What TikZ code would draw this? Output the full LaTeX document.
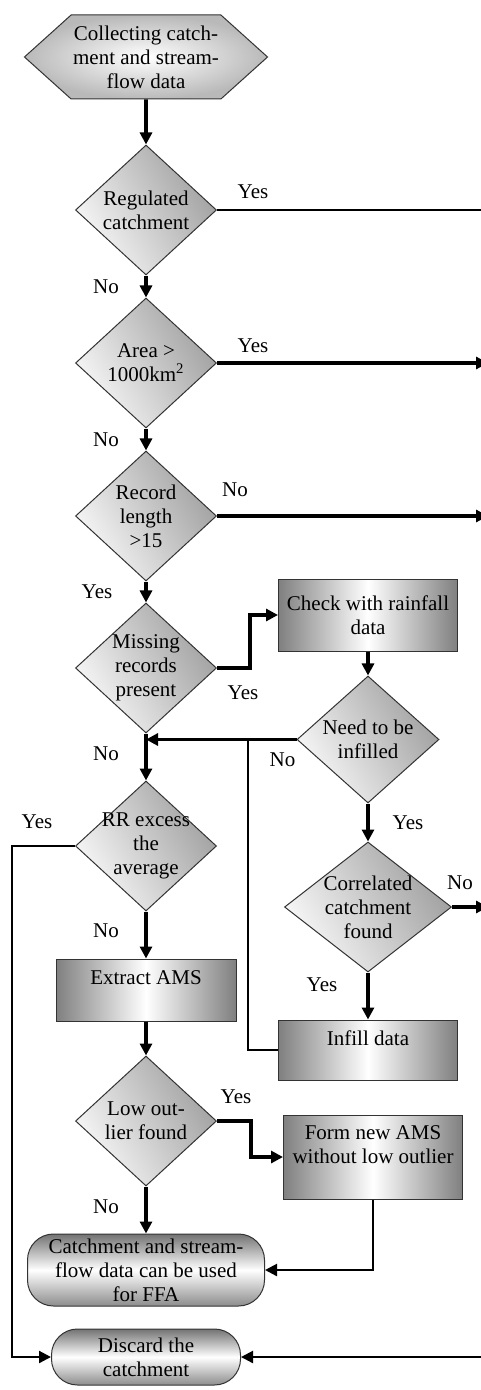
\documentclass[tikz,border=0pt]{standalone}
\usepackage{fontspec}
\setmainfont{Liberation Serif}
\usetikzlibrary{positioning, arrows.meta, shapes.geometric, shapes.symbols, calc}

\begin{document}
\begin{tikzpicture}[
    x=0.5pt, y=-0.5pt,
    font=\fontsize{10.5}{12}\selectfont,
    node distance=12pt,
    base/.style={draw=black!80, line width=0.5pt, align=center},
    startbox/.style={base, signal, signal to=east and west, signal pointer angle=84,
      minimum width=119pt, minimum height=42pt, inner sep=1pt,
      inner color=white, outer color=gray!55},
    decision/.style={base, diamond, inner sep=-4pt, minimum width=70.5pt, minimum height=65pt,
      top color=gray!75, bottom color=gray!5, shading angle=-60},
    process/.style={base, rectangle, minimum width=89.5pt, inner sep=1pt,
      left color=black!50, right color=black!50, middle color=white},
    terminal/.style={base, rectangle, rounded corners=13pt, inner sep=1pt,
      top color=black!55, bottom color=black!45, middle color=white},
    arrow/.style={-{Triangle[length=6pt,width=6pt]}, line width=1.8pt},
    thinarrow/.style={-{Triangle[length=6pt,width=6pt]}, line width=1.1pt},
    thinline/.style={line width=1.1pt},
    lbl/.style={inner sep=0pt}
  ]
  \useasboundingbox (0,0) rectangle (481,1390);
  \coordinate (rightedge) at (488,0);

  % main column
  \node[startbox] (collect) at (146,57) {Collecting catch-\\ment and stream-\\flow data};
  \node[decision, below=22.5pt of collect] (regulated) {Regulated\\catchment};
  \node[decision, below=11pt of regulated] (area) {Area >\\1000km\textsuperscript{2}};
  \node[decision, below=11pt of area] (record) {Record\\length\\>15};
  \node[decision, below=10.5pt of record] (missing) {Missing\\records\\present};
  \node[decision, below=23.5pt of missing] (excess) {RR excess\\the\\average};
  \node[process, minimum width=90pt, minimum height=31pt, below=23.5pt of excess] (extract) {Extract AMS\\\mbox{}};
  \node[decision, below=17pt of extract] (outlier) {Low out-\\lier found};
  \node[terminal, minimum width=118.5pt, minimum height=36pt, below=23.5pt of outlier] (usable) {Catchment and stream-\\flow data can be used\\for FFA};
  \node[terminal, minimum width=94.5pt, minimum height=28pt, below=11pt of usable] (discard) {Discard the\\catchment};

  % infilling branch
  \node[process, minimum height=36pt, right=30.5pt of missing, yshift=26.5pt] (rainfall) {Check with rainfall\\data};
  \node[decision, minimum width=71pt, minimum height=63.5pt, below=12pt of rainfall] (infilled) {Need to be\\infilled};
  \node[decision, minimum width=83.5pt, below=19pt of infilled] (correlated) {Correlated\\catchment\\found};
  \node[process, minimum height=30pt, below=23.5pt of correlated] (infill) {Infill data\\\mbox{}};
  \node[process, minimum height=42pt, right=33pt of outlier, yshift=-18pt] (newams) {Form new AMS\\without low outlier\\\mbox{}};
  \coordinate (merge) at ($(rainfall.west |- infilled.west) + (-15pt,0)$);

  % connectors
  \draw[arrow] (collect) -- (regulated);
  \draw[thinline] (regulated.east) -- node[lbl, pos=0, xshift=18pt, yshift=9pt] {Yes} (regulated.east -| rightedge);
  \draw[arrow] (regulated) -- node[lbl, xshift=-20pt] {No} (area);
  \draw[arrow] (area.east) -- node[lbl, pos=0, xshift=18pt, yshift=8.5pt] {Yes} (area.east -| rightedge);
  \draw[arrow] (area) -- node[lbl, xshift=-20pt] {No} (record);
  \draw[arrow] (record.east) -- node[lbl, pos=0, xshift=9pt, yshift=13pt] {No} (record.east -| rightedge);
  \draw[arrow] (record) -- node[lbl, xshift=-24.5pt] {Yes} (missing);
  \draw[arrow] (missing.east) -- ++(16.5pt,0) node[lbl, pos=0, xshift=13pt, yshift=-12.5pt] {Yes} |- (rainfall.west);
  \draw[arrow] (rainfall) -- (infilled);
  \draw[arrow] (infilled.west) -- node[lbl, pos=0, xshift=-7pt, yshift=-10pt] {No} (infilled.west -| missing.south);
  \draw[arrow] (infilled) -- node[lbl, xshift=20pt] {Yes} (correlated);
  \draw[arrow] (correlated.east) -- node[lbl, pos=0, xshift=4pt, yshift=12pt] {No} (correlated.east -| rightedge);
  \draw[arrow] (correlated) -- node[lbl, pos=0.27, xshift=-23pt] {Yes} (infill);
  \draw[thinline] (infill.west) -| (merge);
  \draw[arrow] (missing) -- node[lbl, pos=0.43, xshift=-20pt] {No} (excess);
  \draw[thinarrow] (excess.west) -- ++(-31.5pt,0) node[lbl, pos=0, xshift=-19pt, yshift=12pt] {Yes} |- (discard.west);
  \draw[arrow] (excess) -- node[lbl, pos=0.4, xshift=-20pt] {No} (extract);
  \draw[arrow] (extract) -- (outlier);
  \draw[arrow] (outlier.east) -- ++(17pt,0) node[lbl, pos=0, xshift=9.5pt, yshift=12pt] {Yes} |- (newams.west);
  \draw[arrow] (outlier) -- node[lbl, pos=0.42, xshift=-20pt] {No} (usable);
  \draw[thinarrow] (newams.south) |- (usable.east);
  \draw[thinarrow] (discard.east -| rightedge) -- (discard.east);
\end{tikzpicture}
\end{document}
